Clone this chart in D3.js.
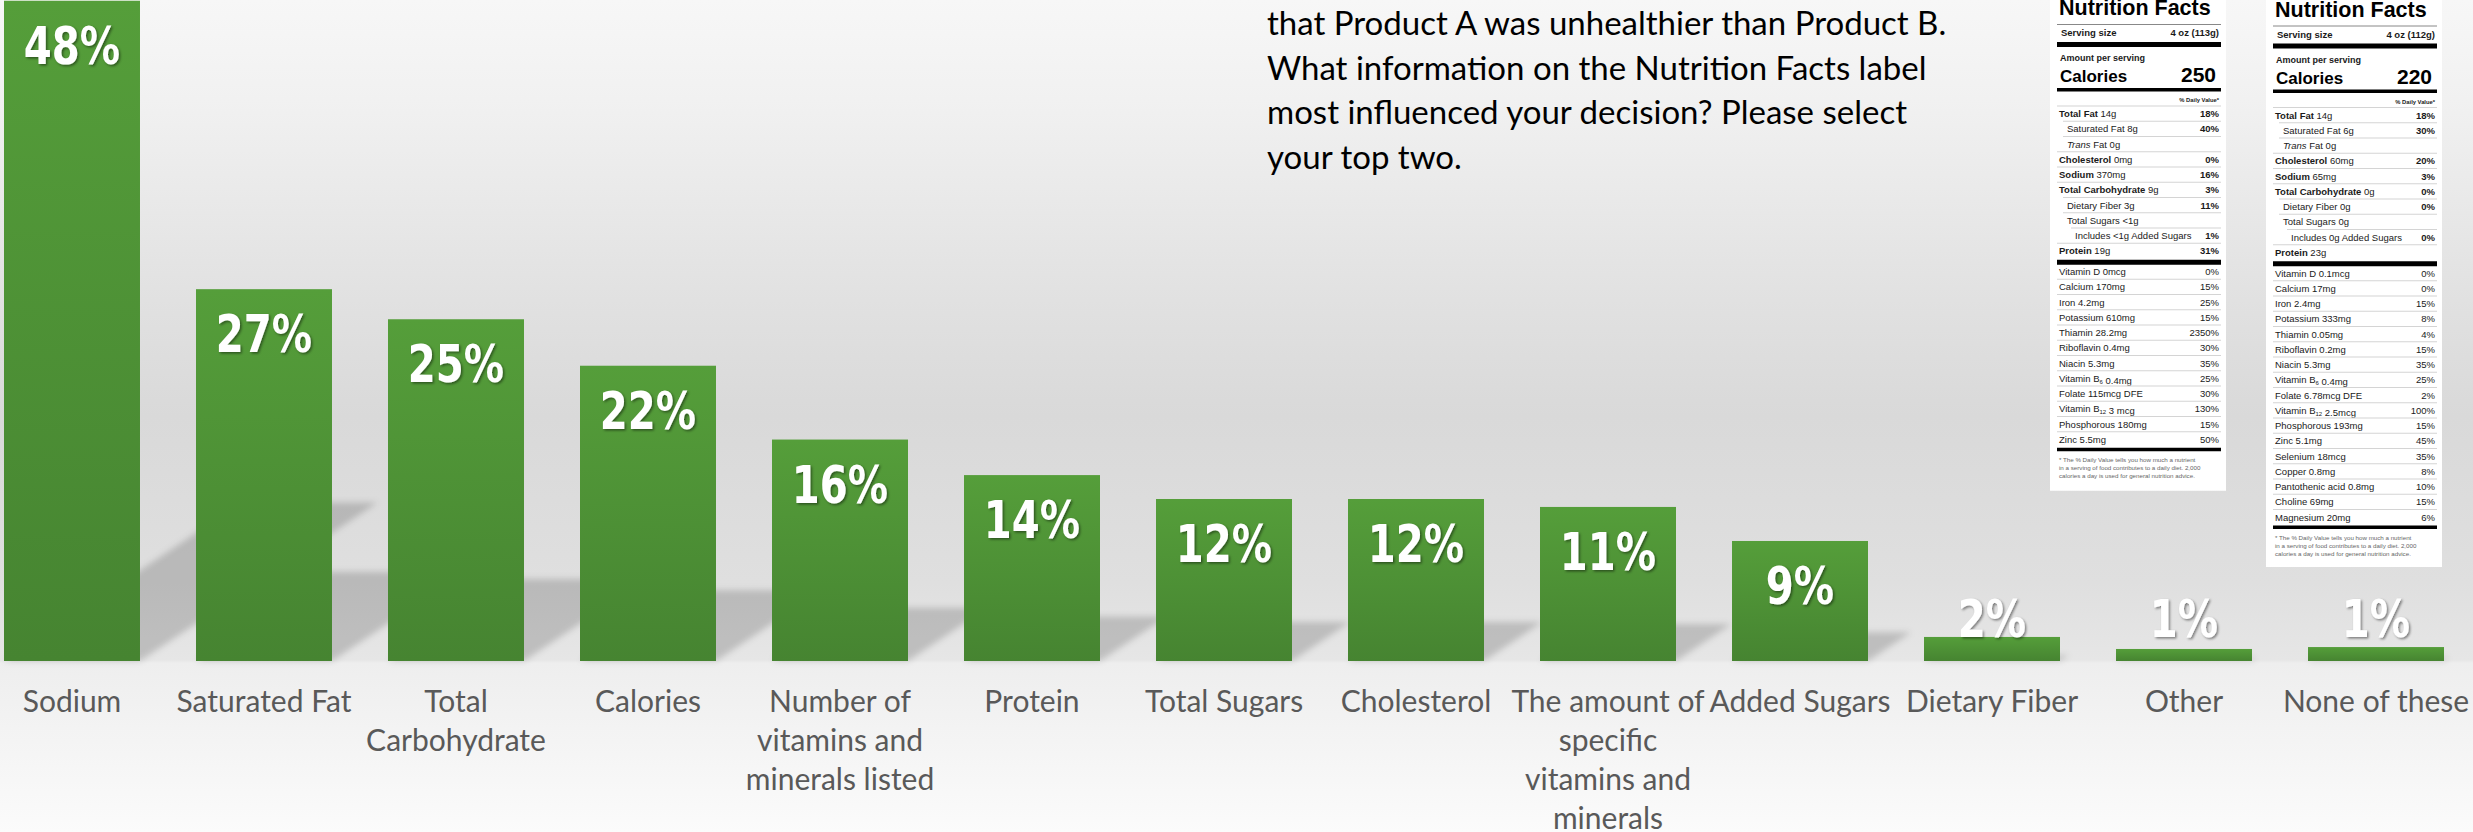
<!DOCTYPE html>
<html><head><meta charset="utf-8">
<script src="https://cdn.jsdelivr.net/npm/d3@7"></script>
<style>
html,body{margin:0;padding:0;background:#fff;overflow:hidden}
svg{display:block}
</style></head><body>
<svg id="chart" width="2473" height="832"></svg>
<script>
// ---------------- DATA ----------------
const categories = [
  "Sodium", "Saturated Fat", "Total\nCarbohydrate", "Calories",
  "Number of\nvitamins and\nminerals listed", "Protein", "Total Sugars",
  "Cholesterol", "The amount of\nspecific\nvitamins and\nminerals",
  "Added Sugars", "Dietary Fiber", "Other", "None of these"
];
const values = [48.3, 27.2, 25.0, 21.6, 16.2, 13.6, 11.85, 11.85, 11.27, 8.78, 1.76, 0.88, 1.02];

const questionLines = [
  "that Product A was unhealthier than Product B.",
  "What information on the Nutrition Facts label",
  "most influenced your decision? Please select",
  "your top two."
];

const headerA = ["Nutrition Facts", "Serving size", "4 oz (113g)", "Amount per serving", "Calories", "250", "% Daily Value*"];
const mainA = [
  ["Total Fat", "14g", "18%"], ["Saturated Fat", "8g", "40%"], ["Trans Fat", "0g", ""],
  ["Cholesterol", "0mg", "0%"], ["Sodium", "370mg", "16%"], ["Total Carbohydrate", "9g", "3%"],
  ["Dietary Fiber", "3g", "11%"], ["Total Sugars", "<1g", ""], ["Includes <1g Added Sugars", "", "1%"],
  ["Protein", "19g", "31%"]
];
const microA = [
  ["Vitamin D", "0mcg", "0%"], ["Calcium", "170mg", "15%"], ["Iron", "4.2mg", "25%"],
  ["Potassium", "610mg", "15%"], ["Thiamin", "28.2mg", "2350%"], ["Riboflavin", "0.4mg", "30%"],
  ["Niacin", "5.3mg", "35%"], ["Vitamin B_6", "0.4mg", "25%"], ["Folate", "115mcg DFE", "30%"],
  ["Vitamin B_12", "3 mcg", "130%"], ["Phosphorous", "180mg", "15%"], ["Zinc", "5.5mg", "50%"]
];

const headerB = ["Nutrition Facts", "Serving size", "4 oz (112g)", "Amount per serving", "Calories", "220", "% Daily Value*"];
const mainB = [
  ["Total Fat", "14g", "18%"], ["Saturated Fat", "6g", "30%"], ["Trans Fat", "0g", ""],
  ["Cholesterol", "60mg", "20%"], ["Sodium", "65mg", "3%"], ["Total Carbohydrate", "0g", "0%"],
  ["Dietary Fiber", "0g", "0%"], ["Total Sugars", "0g", ""], ["Includes 0g Added Sugars", "", "0%"],
  ["Protein", "23g", ""]
];
const microB = [
  ["Vitamin D", "0.1mcg", "0%"], ["Calcium", "17mg", "0%"], ["Iron", "2.4mg", "15%"],
  ["Potassium", "333mg", "8%"], ["Thiamin", "0.05mg", "4%"], ["Riboflavin", "0.2mg", "15%"],
  ["Niacin", "5.3mg", "35%"], ["Vitamin B_6", "0.4mg", "25%"], ["Folate", "6.78mcg DFE", "2%"],
  ["Vitamin B_12", "2.5mcg", "100%"], ["Phosphorous", "193mg", "15%"], ["Zinc", "5.1mg", "45%"],
  ["Selenium", "18mcg", "35%"], ["Copper", "0.8mg", "8%"], ["Pantothenic acid", "0.8mg", "10%"],
  ["Choline", "69mg", "15%"], ["Magnesium", "20mg", "6%"]
];
const footnote = [
  "* The % Daily Value tells you how much a nutrient",
  "in a serving of food contributes to a daily diet. 2,000",
  "calories a day is used for general nutrition advice."
];

// ---------------- SETUP ----------------
const W = 2473, H = 832, base = 661;
const svg = d3.select("#chart");
const defs = svg.append("defs");

const bg = defs.append("linearGradient").attr("id", "bg").attr("x1", 0).attr("y1", 0).attr("x2", 0).attr("y2", 1);
[[0, "#f7f7f7"], [0.12, "#f1f1f1"], [0.36, "#e1e1e1"], [0.5, "#d9d9d9"], [0.7, "#dfdfdf"],
 [0.793, "#e6e6e6"], [0.797, "#eeeeee"], [1, "#fbfbfb"]]
  .forEach(([o, c]) => bg.append("stop").attr("offset", o).attr("stop-color", c));

const barGrad = defs.append("linearGradient").attr("id", "barGrad").attr("x1", 0).attr("y1", 0).attr("x2", 0).attr("y2", 1);
barGrad.append("stop").attr("offset", 0).attr("stop-color", "#559e3a");
barGrad.append("stop").attr("offset", 1).attr("stop-color", "#468431");

const blur = defs.append("filter").attr("id", "shBlur").attr("x", "-20%").attr("y", "-20%").attr("width", "140%").attr("height", "140%");
blur.append("feGaussianBlur").attr("stdDeviation", 3);

const ts = defs.append("filter").attr("id", "txtSh").attr("x", "-20%").attr("y", "-20%").attr("width", "140%").attr("height", "140%");
ts.append("feDropShadow").attr("dx", 1.5).attr("dy", 1.5).attr("stdDeviation", 1).attr("flood-color", "#000").attr("flood-opacity", 0.45);

svg.append("rect").attr("width", W).attr("height", H).attr("fill", "url(#bg)");

// ---------------- SCALES ----------------
const x = d3.scaleBand().domain(categories).range([-24, 2472]).paddingInner(0.2917).paddingOuter(0.1458);
const y = d3.scaleLinear().domain([0, 50]).range([base, base - 50 * 13.67]);

// ---------------- QUESTION TEXT ----------------
svg.append("g").attr("font-family", "Lato, 'Open Sans', sans-serif").attr("font-size", 33).attr("fill", "#000")
  .selectAll("text").data(questionLines).join("text")
  .attr("x", 1267).attr("y", (d, i) => 35 + i * 44.6).text(d => d);

// ---------------- NUTRITION PANELS ----------------
const boldNames = new Set(["Total Fat", "Cholesterol", "Sodium", "Total Carbohydrate", "Protein"]);
const indent1 = new Set(["Saturated Fat", "Trans Fat", "Dietary Fiber", "Total Sugars"]);

function nameSpans(t, name, bold) {
  if (name === "Trans Fat") {
    t.append("tspan").attr("font-style", "italic").text("Trans");
    t.append("tspan").text(" Fat");
    return;
  }
  const m = name.match(/^(.*)_(\d+)$/);
  if (m) {
    t.append("tspan").attr("font-weight", bold ? "bold" : "normal").text(m[1]);
    t.append("tspan").attr("font-size", 6).attr("dy", 2).text(m[2]);
    t.append("tspan").attr("dy", -2).text("");
    return;
  }
  t.append("tspan").attr("font-weight", bold ? "bold" : "normal").text(name);
}

function drawPanel(x0, dy, header, main, micro) {
  const g = svg.append("g").attr("transform", `translate(${x0},${dy})`)
    .attr("font-family", "'Liberation Sans', Arial, sans-serif").attr("fill", "#1a1a1a");
  const cl = 7, cr = 171;
  const rowH = 15.25;
  const mainY0 = 117, microY0 = 275;
  const lastY = microY0 + (micro.length - 1) * rowH;
  const boxBottom = lastY + 48 - dy;
  g.append("rect").attr("x", 0).attr("y", -dy).attr("width", 176).attr("height", boxBottom + dy).attr("fill", "#fff");

  g.append("text").attr("x", cl + 2).attr("y", 15).attr("font-size", 21.5).attr("font-weight", "bold").attr("fill", "#000").text(header[0]);
  g.append("line").attr("x1", cl).attr("x2", cr).attr("y1", 24.5).attr("y2", 24.5).attr("stroke", "#888").attr("stroke-width", 1);
  g.append("text").attr("x", cl + 4).attr("y", 36).attr("font-size", 9.5).attr("font-weight", "bold").text(header[1]);
  g.append("text").attr("x", cr - 2).attr("y", 36).attr("font-size", 9.5).attr("font-weight", "bold").attr("text-anchor", "end").text(header[2]);
  g.append("rect").attr("x", cl).attr("y", 42).attr("width", cr - cl).attr("height", 5).attr("fill", "#000");
  g.append("text").attr("x", cl + 3).attr("y", 61).attr("font-size", 9).attr("font-weight", "bold").text(header[3]);
  g.append("text").attr("x", cl + 3).attr("y", 82).attr("font-size", 17).attr("font-weight", "bold").attr("fill", "#000").text(header[4]);
  g.append("text").attr("x", cr - 5).attr("y", 82).attr("font-size", 21).attr("font-weight", "bold").attr("fill", "#000").attr("text-anchor", "end").text(header[5]);
  g.append("rect").attr("x", cl).attr("y", 88).attr("width", cr - cl).attr("height", 3.5).attr("fill", "#000");
  g.append("text").attr("x", cr - 2).attr("y", 102).attr("font-size", 5.8).attr("font-weight", "bold").attr("text-anchor", "end").text(header[6]);

  main.forEach((r, i) => {
    const by = mainY0 + i * rowH;
    const ind = r[0].startsWith("Includes") ? 16 : indent1.has(r[0]) ? 8 : 0;
    g.append("line").attr("x1", cl + (ind ? ind - 2 : 0)).attr("x2", cr).attr("y1", by - 11).attr("y2", by - 11).attr("stroke", "#d4d4d4").attr("stroke-width", 1.2);
    const t = g.append("text").attr("x", cl + 2 + ind).attr("y", by).attr("font-size", 9.5);
    nameSpans(t, r[0], boldNames.has(r[0]));
    if (r[1]) t.append("tspan").text(" " + r[1]);
    if (r[2]) g.append("text").attr("x", cr - 2).attr("y", by).attr("font-size", 9.5).attr("font-weight", "bold").attr("text-anchor", "end").text(r[2]);
  });
  g.append("rect").attr("x", cl).attr("y", mainY0 + (main.length - 1) * rowH + 5.5).attr("width", cr - cl).attr("height", 5).attr("fill", "#000");

  micro.forEach((r, i) => {
    const by = microY0 + i * rowH;
    if (i > 0) g.append("line").attr("x1", cl).attr("x2", cr).attr("y1", by - 11).attr("y2", by - 11).attr("stroke", "#d4d4d4").attr("stroke-width", 1.2);
    const t = g.append("text").attr("x", cl + 2).attr("y", by).attr("font-size", 9.5);
    nameSpans(t, r[0], false);
    t.append("tspan").text(" " + r[1]);
    g.append("text").attr("x", cr - 2).attr("y", by).attr("font-size", 9.5).attr("text-anchor", "end").text(r[2]);
  });
  g.append("rect").attr("x", cl).attr("y", lastY + 5).attr("width", cr - cl).attr("height", 3.5).attr("fill", "#000");
  g.selectAll(".fn").data(footnote).join("text").attr("class", "fn")
    .attr("x", cl + 2).attr("y", (d, i) => lastY + 19.5 + i * 8).attr("font-size", 6.2).attr("fill", "#666").text(d => d);
}
drawPanel(2050, 0, headerA, mainA, microA);
drawPanel(2266, 1.5, headerB, mainB, microB);

// ---------------- SHADOWS ----------------
const data = categories.map((c, i) => ({ c, v: values[i] }));
svg.append("g").attr("filter", "url(#shBlur)")
  .selectAll("path").data(data).join("path")
  .attr("fill", "#000").attr("fill-opacity", 0.17)
  .attr("d", d => {
    const x0 = x(d.c), x1 = x0 + x.bandwidth(), h = base - y(d.v);
    const dy = h * 0.24, dx = dy * 1.5;
    return `M${x0},${base}L${x1},${base}L${x1 + dx},${base - dy}L${x0 + dx},${base - dy}Z`;
  });

// ---------------- BARS ----------------
svg.append("g").selectAll("rect").data(data).join("rect")
  .attr("x", d => x(d.c)).attr("width", x.bandwidth())
  .attr("y", d => y(d.v)).attr("height", d => base - y(d.v))
  .attr("fill", "url(#barGrad)");

// ---------------- VALUE LABELS ----------------
svg.append("g").attr("font-family", "'Liberation Sans Narrow', 'Arial Narrow', 'DejaVu Sans Condensed', sans-serif")
  .attr("font-weight", "bold").attr("font-size", 52).attr("fill", "#fff").attr("text-anchor", "middle")
  .attr("filter", "url(#txtSh)")
  .selectAll("text").data(data).join("text")
  .attr("transform", d => `translate(${x(d.c) + x.bandwidth() / 2},${Math.min(y(d.v) + 63, 637)}) scale(0.86,1)`)
  .text(d => Math.round(d.v) + "%");

// ---------------- CATEGORY AXIS ----------------
const ax = svg.append("g").attr("transform", `translate(0,${base})`)
  .call(d3.axisBottom(x).tickSize(0).tickPadding(0));
ax.select(".domain").remove();
ax.selectAll(".tick text")
  .attr("font-family", "Lato, 'Open Sans', sans-serif").attr("font-size", 30).attr("fill", "#595959")
  .attr("y", 51).attr("dy", null)
  .each(function (d) {
    const t = d3.select(this);
    t.text(null);
    d.split("\n").forEach((line, i) => t.append("tspan").attr("x", 0).attr("dy", i ? 39 : 0).text(line));
  });
</script>
</body></html>
